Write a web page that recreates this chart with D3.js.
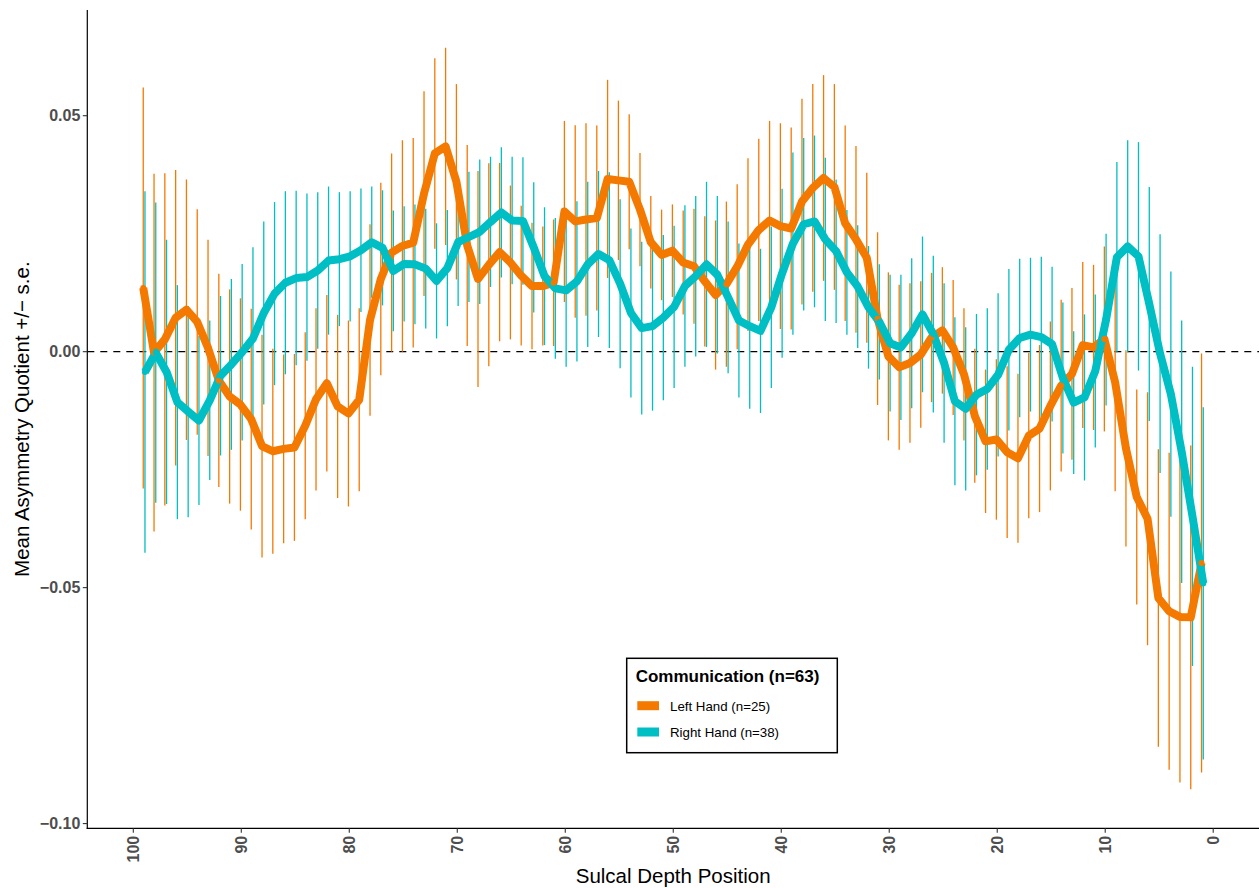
<!DOCTYPE html>
<html>
<head>
<meta charset="utf-8">
<script src="https://cdn.jsdelivr.net/npm/d3@7"></script>
<style>
  html, body { margin: 0; padding: 0; background: #ffffff; }
  svg { display: block; font-family: "Liberation Sans", Arial, Helvetica, sans-serif; }
</style>
</head>
<body>
<svg id="chart" width="1259" height="888"></svg>
<script>
// ---- data (positions 99 .. 1) ----
const positions = d3.range(99, 0, -1);

const leftMean = [
  0.0135, -0.0002, 0.0026, 0.0072, 0.0089, 0.0063, 0.0008, -0.0061, -0.0095, -0.0112,
  -0.0143, -0.0200, -0.0211, -0.0206, -0.0203, -0.0157, -0.0101, -0.0067, -0.0116, -0.0131,
  -0.0102, 0.0067, 0.0154, 0.0210, 0.0224, 0.0231, 0.0335, 0.0420, 0.0435, 0.0360,
  0.0225, 0.0154, 0.0184, 0.0211, 0.0189, 0.0161, 0.0139, 0.0139, 0.0146, 0.0297,
  0.0276, 0.0280, 0.0283, 0.0366, 0.0363, 0.0360, 0.0301, 0.0232, 0.0205, 0.0214,
  0.0189, 0.0181, 0.0149, 0.0120, 0.0143, 0.0180, 0.0227, 0.0258, 0.0278, 0.0266,
  0.0261, 0.0318, 0.0347, 0.0368, 0.0349, 0.0272, 0.0238, 0.0199, 0.0070, -0.0010,
  -0.0033, -0.0024, -0.0006, 0.0030, 0.0045, 0.0009, -0.0048, -0.0136, -0.0190, -0.0186,
  -0.0213, -0.0226, -0.0178, -0.0163, -0.0115, -0.0072, -0.0047, 0.0014, 0.0009, 0.0027,
  -0.0065, -0.0205, -0.0308, -0.0354, -0.0522, -0.0550, -0.0562, -0.0563, -0.0448
];
const leftSE = [
  0.0425, 0.0379, 0.0352, 0.0313, 0.0276, 0.0239, 0.0229, 0.0226, 0.0227, 0.0225,
  0.0234, 0.0236, 0.0217, 0.0200, 0.0198, 0.0198, 0.0193, 0.0187, 0.0194, 0.0197,
  0.0194, 0.0203, 0.0204, 0.0210, 0.0224, 0.0222, 0.0217, 0.0202, 0.0209, 0.0207,
  0.0213, 0.0229, 0.0215, 0.0189, 0.0163, 0.0148, 0.0134, 0.0126, 0.0134, 0.0192,
  0.0204, 0.0204, 0.0196, 0.0210, 0.0169, 0.0143, 0.0120, 0.0098, 0.0096, 0.0098,
  0.0110, 0.0122, 0.0138, 0.0158, 0.0175, 0.0175, 0.0183, 0.0193, 0.0211, 0.0218,
  0.0214, 0.0218, 0.0220, 0.0218, 0.0218, 0.0207, 0.0198, 0.0180, 0.0183, 0.0178,
  0.0175, 0.0169, 0.0155, 0.0137, 0.0134, 0.0143, 0.0140, 0.0142, 0.0152, 0.0170,
  0.0182, 0.0179, 0.0175, 0.0177, 0.0179, 0.0182, 0.0182, 0.0176, 0.0175, 0.0196,
  0.0231, 0.0208, 0.0228, 0.0268, 0.0315, 0.0336, 0.0351, 0.0364, 0.0444
];
const rightMean = [
  -0.0043, -0.0002, -0.0043, -0.0107, -0.0127, -0.0146, -0.0103, -0.0051, -0.0027, -0.0001,
  0.0028, 0.0082, 0.0123, 0.0146, 0.0156, 0.0158, 0.0172, 0.0193, 0.0196, 0.0202,
  0.0215, 0.0232, 0.0220, 0.0171, 0.0186, 0.0185, 0.0176, 0.0150, 0.0177, 0.0232,
  0.0243, 0.0254, 0.0275, 0.0295, 0.0278, 0.0277, 0.0221, 0.0160, 0.0134, 0.0130,
  0.0149, 0.0185, 0.0207, 0.0194, 0.0144, 0.0082, 0.0050, 0.0054, 0.0072, 0.0095,
  0.0139, 0.0160, 0.0185, 0.0163, 0.0115, 0.0066, 0.0054, 0.0044, 0.0094, 0.0166,
  0.0229, 0.0270, 0.0276, 0.0238, 0.0213, 0.0168, 0.0138, 0.0094, 0.0063, 0.0018,
  0.0009, 0.0039, 0.0079, 0.0037, -0.0024, -0.0105, -0.0121, -0.0091, -0.0079, -0.0049,
  0.0004, 0.0029, 0.0036, 0.0031, 0.0016, -0.0056, -0.0108, -0.0097, -0.0041, 0.0068,
  0.0200, 0.0223, 0.0202, 0.0101, -0.0004, -0.0090, -0.0212, -0.0349, -0.0491
];
const rightSE = [
  0.0383, 0.0318, 0.0280, 0.0248, 0.0224, 0.0179, 0.0169, 0.0169, 0.0181, 0.0187,
  0.0193, 0.0194, 0.0194, 0.0194, 0.0185, 0.0177, 0.0166, 0.0157, 0.0142, 0.0138,
  0.0131, 0.0118, 0.0122, 0.0128, 0.0122, 0.0127, 0.0127, 0.0122, 0.0123, 0.0135,
  0.0138, 0.0153, 0.0138, 0.0138, 0.0135, 0.0135, 0.0138, 0.0146, 0.0149, 0.0162,
  0.0170, 0.0175, 0.0176, 0.0186, 0.0179, 0.0179, 0.0183, 0.0179, 0.0175, 0.0172,
  0.0171, 0.0170, 0.0175, 0.0167, 0.0161, 0.0163, 0.0175, 0.0174, 0.0171, 0.0179,
  0.0193, 0.0183, 0.0182, 0.0173, 0.0152, 0.0132, 0.0130, 0.0130, 0.0122, 0.0145,
  0.0154, 0.0159, 0.0165, 0.0166, 0.0169, 0.0178, 0.0173, 0.0171, 0.0171, 0.0173,
  0.0171, 0.0168, 0.0163, 0.0170, 0.0164, 0.0160, 0.0151, 0.0176, 0.0162, 0.0182,
  0.0202, 0.0225, 0.0242, 0.0248, 0.0253, 0.0260, 0.0278, 0.0317, 0.0373
];

const xTicks = [100, 90, 80, 70, 60, 50, 40, 30, 20, 10, 0];
const yTicks = [0.05, 0.00, -0.05, -0.10];
const yTickLabels = ["0.05", "0.00", "\u22120.05", "\u22120.10"];

const seriesNames = ["Left Hand (n=25)", "Right Hand (n=38)"];
const seriesColors = ["#F47900", "#00BFC4"];
const legendTitle = "Communication (n=63)";
const xTitle = "Sulcal Depth Position";
const yTitle = "Mean Asymmetry Quotient +/\u2212 s.e.";

// ---- layout ----
const svg = d3.select("#chart");
const panel = { left: 87.3, right: 1259, top: 10, bottom: 828.3 };

const x = d3.scaleLinear().domain([104.26, -4.24]).range([panel.left, panel.right]);
const y = d3.scaleLinear().domain([-0.101, 0.0724]).range([panel.bottom, panel.top]);
const dodge = 0.08;

const series = [
  { name: seriesNames[0], color: seriesColors[0], off: dodge,
    pts: positions.map((p, i) => ({ p: p, m: leftMean[i], s: leftSE[i] })) },
  { name: seriesNames[1], color: seriesColors[1], off: -dodge,
    pts: positions.map((p, i) => ({ p: p, m: rightMean[i], s: rightSE[i] })) }
];

// zero reference line
svg.append("line")
  .attr("x1", panel.left).attr("x2", panel.right)
  .attr("y1", y(0)).attr("y2", y(0))
  .attr("stroke", "#000").attr("stroke-width", 1.3)
  .attr("stroke-dasharray", "7,6");

// error bars
series.forEach(s => {
  svg.append("g").selectAll("line")
    .data(s.pts).join("line")
    .attr("x1", d => x(d.p + s.off)).attr("x2", d => x(d.p + s.off))
    .attr("y1", d => y(d.m - d.s)).attr("y2", d => y(d.m + d.s))
    .attr("stroke", s.color).attr("stroke-width", 1.3);
});

// lines
const lineGen = d3.line();
series.forEach(s => {
  svg.append("path")
    .attr("d", lineGen(s.pts.map(d => [x(d.p + s.off), y(d.m)])))
    .attr("fill", "none").attr("stroke", s.color)
    .attr("stroke-width", 8).attr("stroke-linejoin", "round").attr("stroke-linecap", "butt");
});
// points
series.forEach(s => {
  svg.append("g").selectAll("circle")
    .data(s.pts).join("circle")
    .attr("cx", d => x(d.p + s.off)).attr("cy", d => y(d.m))
    .attr("r", 3).attr("fill", s.color);
});

// axes
svg.append("line")
  .attr("x1", panel.left).attr("x2", panel.left)
  .attr("y1", panel.top).attr("y2", panel.bottom + 0.6)
  .attr("stroke", "#000").attr("stroke-width", 1.2);
svg.append("line")
  .attr("x1", panel.left - 0.6).attr("x2", panel.right)
  .attr("y1", panel.bottom).attr("y2", panel.bottom)
  .attr("stroke", "#000").attr("stroke-width", 1.2);

const yAx = svg.append("g");
yTicks.forEach((t, i) => {
  yAx.append("line")
    .attr("x1", panel.left - 4.5).attr("x2", panel.left)
    .attr("y1", y(t)).attr("y2", y(t))
    .attr("stroke", "#333").attr("stroke-width", 1.1);
  yAx.append("text")
    .attr("x", panel.left - 7).attr("y", y(t)).attr("dy", "0.35em")
    .attr("text-anchor", "end")
    .attr("font-size", 16).attr("font-weight", "bold").attr("fill", "#4D4D4D")
    .text(yTickLabels[i]);
});

const xAx = svg.append("g");
xTicks.forEach(t => {
  xAx.append("line")
    .attr("x1", x(t)).attr("x2", x(t))
    .attr("y1", panel.bottom).attr("y2", panel.bottom + 4.5)
    .attr("stroke", "#333").attr("stroke-width", 1.1);
  xAx.append("text")
    .attr("transform", `translate(${x(t)},${panel.bottom + 7.5}) rotate(-90)`)
    .attr("dy", "0.35em")
    .attr("text-anchor", "end")
    .attr("font-size", 16).attr("font-weight", "bold").attr("fill", "#4D4D4D")
    .text(String(t));
});

// axis titles
svg.append("text")
  .attr("x", (panel.left + panel.right) / 2).attr("y", 882.5)
  .attr("text-anchor", "middle").attr("font-size", 20.5).attr("fill", "#000")
  .text(xTitle);
svg.append("text")
  .attr("transform", `translate(29,${(panel.top + panel.bottom) / 2}) rotate(-90)`)
  .attr("text-anchor", "middle").attr("font-size", 20.5).attr("fill", "#000")
  .text(yTitle);

// legend
const lg = svg.append("g");
lg.append("rect")
  .attr("x", 626.7).attr("y", 658.3).attr("width", 210.6).attr("height", 94.4)
  .attr("fill", "#fff").attr("stroke", "#000").attr("stroke-width", 1.5);
lg.append("text")
  .attr("x", 635.7).attr("y", 681.7)
  .attr("font-size", 17).attr("font-weight", "bold").attr("fill", "#000")
  .text(legendTitle);
series.forEach((s, i) => {
  const cy = 705.7 + i * 26.3;
  lg.append("line")
    .attr("x1", 637.3).attr("x2", 659)
    .attr("y1", cy).attr("y2", cy)
    .attr("stroke", s.color).attr("stroke-width", 9);
  lg.append("text")
    .attr("x", 670).attr("y", cy + 5.3)
    .attr("font-size", 13.3).attr("fill", "#000")
    .text(s.name);
});
</script>
</body>
</html>
